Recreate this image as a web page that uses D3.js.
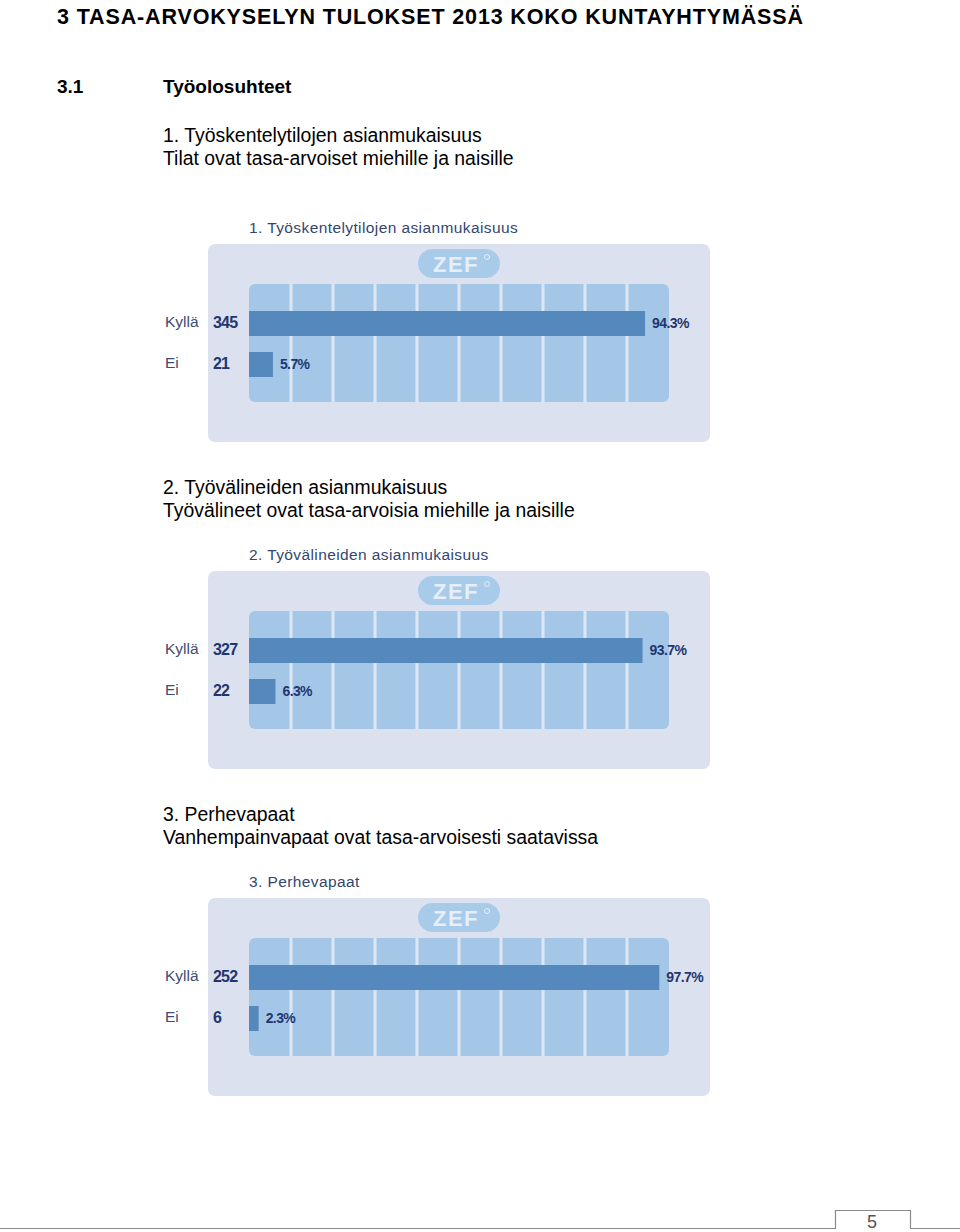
<!DOCTYPE html>
<html><head><meta charset="utf-8">
<script src="https://cdn.jsdelivr.net/npm/d3@7"></script>
<style>body{margin:0;background:#fff}svg{display:block}</style>
</head><body>
<script>
const chartTitles = ["1. Työskentelytilojen asianmukaisuus", "2. Työvälineiden asianmukaisuus", "3. Perhevapaat"];
const headings = ["1. Työskentelytilojen asianmukaisuus", "2. Työvälineiden asianmukaisuus", "3. Perhevapaat"];
const subtitles = ["Tilat ovat tasa-arvoiset miehille ja naisille", "Työvälineet ovat tasa-arvoisia miehille ja naisille", "Vanhempainvapaat ovat tasa-arvoisesti saatavissa"];
const categories = ["Kyllä", "Ei"];
const counts = [[345, 21], [327, 22], [252, 6]];
const percents = [[94.3, 5.7], [93.7, 6.3], [97.7, 2.3]];
const gridTicks = [10, 20, 30, 40, 50, 60, 70, 80, 90];

const W = 960, H = 1232;
const svg = d3.select("body").append("svg").attr("width", W).attr("height", H);
const sans = "'Liberation Sans', Arial, Helvetica, sans-serif";

svg.append("text").attr("x", 57).attr("y", 24).attr("font-family", sans).attr("font-weight", "bold")
  .attr("font-size", 21.5).attr("textLength", 746).attr("lengthAdjust", "spacing")
  .attr("fill", "#000").text("3 TASA-ARVOKYSELYN TULOKSET 2013 KOKO KUNTAYHTYMÄSSÄ");
svg.append("text").attr("x", 57).attr("y", 93).attr("font-family", sans).attr("font-weight", "bold")
  .attr("font-size", 19).text("3.1");
svg.append("text").attr("x", 163).attr("y", 93).attr("font-family", sans).attr("font-weight", "bold")
  .attr("font-size", 19).text("Työolosuhteet");

const headY = [142, 494, 821];
headings.forEach((h, i) => {
  svg.append("text").attr("x", 163).attr("y", headY[i]).attr("font-family", sans).attr("font-size", 19.4).text(h);
  svg.append("text").attr("x", 163).attr("y", headY[i] + 23).attr("font-family", sans).attr("font-size", 19.4).text(subtitles[i]);
});

const x = d3.scaleLinear().domain([0, 100]).range([249, 669]);

chartTitles.forEach((t, i) => {
  const top = 244 + i * 327;
  const g = svg.append("g");
  g.append("text").attr("x", 249).attr("y", top - 11).attr("font-family", sans).attr("font-size", 15.5)
    .attr("letter-spacing", 0.4).attr("fill", "#34466e").text(t);
  g.append("rect").attr("x", 208).attr("y", top).attr("width", 502).attr("height", 198).attr("rx", 7)
    .attr("fill", "#dce1f0");
  // ZEF badge
  g.append("rect").attr("x", 418).attr("y", top + 5).attr("width", 82).attr("height", 29).attr("rx", 14.5)
    .attr("fill", "#a9cbea");
  g.append("text").attr("x", 456).attr("y", top + 28).attr("text-anchor", "middle").attr("font-family", sans)
    .attr("font-weight", "bold").attr("font-size", 22).attr("letter-spacing", 1.5).attr("fill", "#e6eef8").text("ZEF");
  g.append("circle").attr("cx", 487).attr("cy", top + 13).attr("r", 2.5).attr("fill", "none")
    .attr("stroke", "#e6eef8").attr("stroke-width", 1);
  // grid panel
  const gy0 = top + 40, gy1 = top + 158;
  g.append("rect").attr("x", x(0)).attr("y", gy0).attr("width", x(100) - x(0)).attr("height", gy1 - gy0)
    .attr("rx", 6).attr("fill", "#a4c7e8");
  g.selectAll("line.sep").data(gridTicks).join("line")
    .attr("x1", d => x(d)).attr("x2", d => x(d)).attr("y1", gy0).attr("y2", gy1)
    .attr("stroke", "#dde6f4").attr("stroke-width", 3);
  const y = d3.scaleBand().domain(categories).range([top + 67, top + 67 + 82]).padding(0);
  const rows = categories.map((c, k) => ({c, n: counts[i][k], p: percents[i][k]}));
  g.selectAll("rect.bar").data(rows).join("rect")
    .attr("x", x(0)).attr("y", d => y(d.c)).attr("width", d => x(d.p) - x(0)).attr("height", 25)
    .attr("fill", "#5589bd");
  g.selectAll("text.cat").data(rows).join("text")
    .attr("x", 165).attr("y", d => y(d.c) + 16).attr("font-family", sans).attr("font-size", 15.5)
    .attr("fill", "#3e4c6e").text(d => d.c);
  g.selectAll("text.cnt").data(rows).join("text")
    .attr("x", 213).attr("y", d => y(d.c) + 17).attr("font-family", sans).attr("font-weight", "bold")
    .attr("font-size", 16).attr("letter-spacing", -0.8).attr("fill", "#1f3670").text(d => d.n);
  g.selectAll("text.pct").data(rows).join("text")
    .attr("x", d => x(d.p) + 7).attr("y", d => y(d.c) + 17).attr("font-family", sans).attr("font-weight", "bold")
    .attr("font-size", 14).attr("letter-spacing", -0.6).attr("fill", "#1f3670").text(d => d.p.toFixed(1) + "%");
});

// page number footer
svg.append("path").attr("d", "M0,1228.5H835.5V1210.5H910.5V1228.5H960").attr("fill", "none")
  .attr("stroke", "#8a8a8a").attr("stroke-width", 1.2);
svg.append("text").attr("x", 872).attr("y", 1228).attr("text-anchor", "middle").attr("font-family", sans)
  .attr("font-size", 18).attr("fill", "#555").text("5");
</script>
</body></html>
